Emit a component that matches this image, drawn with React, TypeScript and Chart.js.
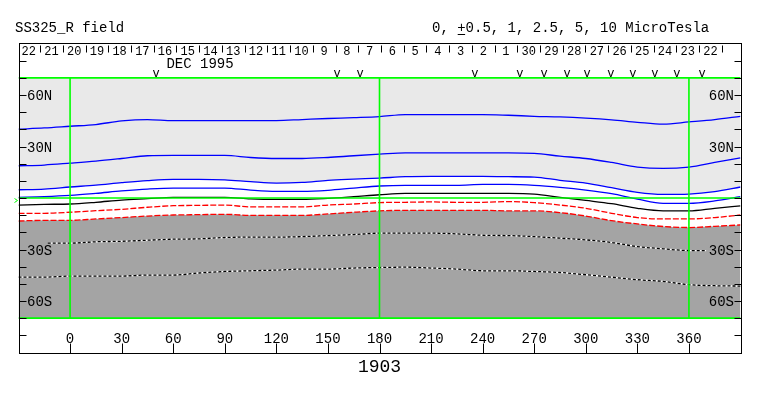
import { useEffect, useRef } from 'react';
import { Chart, registerables } from 'chart.js';

Chart.register(...registerables);

// ---------- data ----------
const LONS = [-30, -15, 0, 15, 30, 45, 60, 75, 90, 105, 120, 135, 150, 165, 180, 195, 210, 225, 240, 255, 270, 285, 300, 315, 330, 345, 360, 375, 390];

const C_10 = [40.1, 40.8, 41.8, 42.8, 44.9, 45.7, 45.1, 45.1, 45.1, 45.1, 45.1, 45.7, 46.3, 46.8, 47.4, 48.6, 48.6, 48.6, 48.6, 48.2, 47.6, 47.2, 46.5, 45.5, 44.1, 43.0, 44.3, 45.7, 47.6];
const C_5 = [18.8, 19.2, 20.3, 21.5, 23.0, 24.6, 24.8, 24.8, 24.8, 23.6, 23.0, 23.0, 23.6, 24.6, 25.5, 26.3, 26.3, 26.3, 26.3, 26.3, 26.0, 24.4, 23.0, 20.7, 18.0, 17.2, 18.0, 20.7, 23.4];
const C_2_5 = [4.8, 5.2, 6.4, 7.5, 8.9, 10.1, 10.8, 10.8, 10.5, 9.5, 8.7, 9.1, 10.3, 11.0, 11.6, 12.4, 12.6, 12.6, 12.6, 12.4, 12.2, 10.3, 8.7, 6.0, 3.3, 2.1, 2.3, 3.7, 6.4];
const C_1 = [0.4, 0.8, 1.5, 2.7, 4.1, 5.2, 5.8, 5.8, 5.8, 4.6, 3.9, 3.9, 4.5, 5.8, 7.0, 7.4, 7.4, 7.4, 7.9, 7.9, 7.4, 6.2, 4.6, 2.5, -0.6, -3.1, -3.1, -1.7, 0.8];
const C_0 = [-4.1, -3.7, -3.5, -2.5, -1.2, -0.4, 0.4, 0.4, 0.4, -0.5, -0.8, -0.8, -0.2, 0.8, 1.9, 2.7, 2.7, 2.7, 2.7, 2.7, 2.3, 0.4, -1.4, -3.3, -6.0, -7.5, -7.5, -6.0, -4.6];
const C_M05 = [-8.9, -8.9, -8.3, -7.4, -6.6, -5.4, -4.5, -4.3, -4.1, -5.2, -5.2, -5.2, -4.1, -3.5, -2.7, -2.5, -2.3, -2.5, -2.5, -2.1, -2.7, -4.1, -6.0, -8.9, -11.4, -12.2, -12.2, -11.4, -9.9];
const C_M1 = [-13.4, -13.0, -13.0, -12.2, -11.4, -10.5, -9.9, -9.7, -9.5, -10.1, -10.1, -10.1, -9.3, -8.3, -7.5, -7.2, -7.2, -7.2, -7.2, -7.5, -7.5, -8.5, -10.5, -13.2, -15.1, -16.6, -17.2, -16.5, -15.7];

const D1_LONS = [-13, 0, 15, 30, 45, 60, 75, 90, 105, 120, 135, 150, 165, 180, 195, 210, 225, 240, 255, 270, 285, 300, 315, 330, 345, 360, 370];
const D1 = [-26.3, -26.3, -25.5, -25.2, -24.6, -24.0, -23.8, -23.0, -22.8, -22.8, -22.5, -21.9, -21.3, -20.5, -20.5, -20.5, -20.9, -21.7, -21.9, -22.5, -23.4, -24.4, -25.9, -28.3, -29.6, -30.6, -30.6];
const D2 = [-46.1, -46.1, -45.5, -45.5, -45.5, -44.9, -44.9, -43.7, -42.8, -42.4, -42.0, -41.4, -41.4, -40.8, -40.5, -40.3, -40.8, -41.4, -42.4, -42.4, -42.8, -43.4, -44.7, -46.1, -47.6, -48.6, -50.5, -51.1, -51.3];

const LAT_TICKS = [-80, -70, -60, -50, -40, -30, -20, -10, 0, 10, 20, 30, 40, 50, 60, 70, 80];
const LAT_LABEL_VALUES = [60, 30, -30, -60];
const LAT_LABEL_TEXT = ['60N', '30N', '30S', '60S'];
const LON_TICKS = [0, 30, 60, 90, 120, 150, 180, 210, 240, 270, 300, 330, 360];
const DAY_LABELS = ['22', '21', '20', '19', '18', '17', '16', '15', '14', '13', '12', '11', '10', '9', '8', '7', '6', '5', '4', '3', '2', '1', '30', '29', '28', '27', '26', '25', '24', '23', '22'];
const V_MARK_LONS = [50.0, 155.3, 168.7, 235.5, 261.7, 275.7, 289.1, 300.7, 314.6, 327.4, 340.2, 353.0, 367.6];
const MONTH_LABEL = 'DEC 1995';
const MONTH_LON = 75.6;
const ROTATION = '1903';
const TITLE = 'SS325_R field';
const SCALE_PREFIX = '0, ';
const SCALE_PLUS = '+';
const SCALE_REST = '0.5, 1, 2.5, 5, 10 MicroTesla';
const GRID_LONS = [0, 180, 360];
const GRID_LATS = [70, 0, -70];

// Carrington day grid: first day boundary and degrees per day
const DAY_SEP0 = -17.45;
const DAY_STEP = 13.22;

const FONT = '"Liberation Mono", "DejaVu Sans Mono", monospace';
const BLUE = '#0000ff';
const GREEN = '#00ff00';
const RED = '#ff0000';
const LIGHT = '#e9e9e9';
const DARK = '#a4a4a4';

const pts = (lons: number[], lats: number[]) => lons.map((x, i) => ({ x, y: lats[i] }));

const decorations = {
  id: 'decorations',
  afterDatasetsDraw(chart: any) {
    const { ctx, chartArea: a, scales } = chart;
    const xs = scales.x;
    const ys = scales.y;
    const L = Math.round(a.left) + 0.5;
    const R = Math.round(a.right) + 0.5;
    const T = Math.floor(a.top) + 0.5;
    const B = Math.ceil(a.bottom) + 0.5;
    ctx.save();
    ctx.strokeStyle = '#000';
    ctx.fillStyle = '#000';
    ctx.lineWidth = 1;
    ctx.strokeRect(L, T, R - L, B - T);
    ctx.beginPath();
    for (const lat of LAT_TICKS) {
      const py = Math.round(ys.getPixelForValue(lat)) + 0.5;
      ctx.moveTo(L, py); ctx.lineTo(L + 7, py);
      ctx.moveTo(R - 7, py); ctx.lineTo(R, py);
    }
    for (const lon of LON_TICKS) {
      const px = Math.round(xs.getPixelForValue(lon)) + 0.5;
      ctx.moveTo(px, B); ctx.lineTo(px, B - 10);
    }
    for (let k = 0; k < DAY_LABELS.length; k++) {
      const px = Math.round(xs.getPixelForValue(DAY_SEP0 + k * DAY_STEP)) + 0.5;
      ctx.moveTo(px, T + 2); ctx.lineTo(px, T + 9);
    }
    ctx.stroke();

    // titles
    ctx.textBaseline = 'alphabetic';
    ctx.font = `14px ${FONT}`;
    ctx.textAlign = 'left';
    ctx.fillText(TITLE, 15, 32);
    const sx = 432;
    ctx.fillText(SCALE_PREFIX + SCALE_PLUS + SCALE_REST, sx, 32);
    const px0 = sx + ctx.measureText(SCALE_PREFIX).width;
    const pw = ctx.measureText(SCALE_PLUS).width;
    ctx.beginPath();
    ctx.moveTo(px0 + 0.5, 34.5); ctx.lineTo(px0 + pw - 0.5, 34.5);
    ctx.stroke();

    // lat labels
    for (let i = 0; i < LAT_LABEL_VALUES.length; i++) {
      const py = Math.round(ys.getPixelForValue(LAT_LABEL_VALUES[i])) + 5;
      ctx.textAlign = 'left';
      ctx.fillText(LAT_LABEL_TEXT[i], L + 7.5, py);
      ctx.textAlign = 'right';
      ctx.fillText(LAT_LABEL_TEXT[i], R - 7.5, py);
    }

    // lon labels
    ctx.textAlign = 'center';
    for (const lon of LON_TICKS) {
      ctx.fillText(String(lon), xs.getPixelForValue(lon), B - 11);
    }

    // month label
    ctx.fillText(MONTH_LABEL, xs.getPixelForValue(MONTH_LON), T + 24);

    // day labels
    ctx.font = `12px ${FONT}`;
    for (let k = 0; k < DAY_LABELS.length; k++) {
      ctx.fillText(DAY_LABELS[k], xs.getPixelForValue(DAY_SEP0 + (k - 0.5) * DAY_STEP), T + 11.5);
    }
    // v marks
    for (const lon of V_MARK_LONS) {
      ctx.fillText('v', xs.getPixelForValue(lon), T + 33.5);
    }

    // rotation number
    ctx.font = `18px ${FONT}`;
    ctx.fillText(ROTATION, xs.getPixelForValue(180), B + 18);

    // equator marker
    const ey = Math.round(ys.getPixelForValue(0)) + 2.5;
    ctx.strokeStyle = GREEN;
    ctx.beginPath();
    ctx.moveTo(14.5, ey - 2); ctx.lineTo(17.5, ey); ctx.lineTo(14.5, ey + 2);
    ctx.stroke();
    ctx.restore();
  },
};

export default function App() {
  const ref = useRef<HTMLCanvasElement>(null);
  useEffect(() => {
    const line = (data: any[], color: string, extra: any = {}) => ({
      data,
      borderColor: color,
      borderWidth: 1.3,
      pointRadius: 0,
      fill: false,
      cubicInterpolationMode: 'monotone',
      order: 2,
      ...extra,
    });
    const datasets: any[] = [
      // fills
      line(pts(LONS, C_2_5), 'rgba(0,0,0,0)', { fill: { value: 70 }, backgroundColor: LIGHT, borderWidth: 0, order: 5 }),
      line(pts(LONS, C_M1), 'rgba(0,0,0,0)', { fill: { value: -70 }, backgroundColor: DARK, borderWidth: 0, order: 5 }),
      // contours
      line(pts(LONS, C_10), BLUE),
      line(pts(LONS, C_5), BLUE),
      line(pts(LONS, C_2_5), BLUE),
      line(pts(LONS, C_1), BLUE),
      line(pts(LONS, C_0), '#000'),
      line(pts(LONS, C_M05), RED, { borderDash: [6, 2] }),
      line(pts(LONS, C_M1), RED, { borderDash: [6, 2] }),
      line(pts(D1_LONS, D1), '#fff', { order: 3 }),
      line(pts(D1_LONS, D1), '#000', { borderDash: [3, 2] }),
      line(pts(LONS, D2), '#fff', { order: 3 }),
      line(pts(LONS, D2), '#000', { borderDash: [3, 2] }),
    ];
    for (const lat of GRID_LATS) {
      datasets.push(line([{ x: -30, y: lat }, { x: 390, y: lat }], GREEN, { borderWidth: 1.6, order: 0, cubicInterpolationMode: 'default' }));
    }
    for (const lon of GRID_LONS) {
      datasets.push(line([{ x: lon, y: -70 }, { x: lon, y: 70 }], GREEN, { borderWidth: 1.6, order: 0, cubicInterpolationMode: 'default' }));
    }

    const chart = new Chart(ref.current as HTMLCanvasElement, {
      type: 'line',
      data: { datasets },
      options: {
        animation: false,
        responsive: false,
        devicePixelRatio: 1,
        layout: { padding: { left: 18.5, right: 22.5, top: 43.5, bottom: 43.5 } },
        scales: {
          x: { type: 'linear', min: -30, max: 390, display: false },
          y: { type: 'linear', min: -90, max: 90, display: false },
        },
        plugins: {
          legend: { display: false },
          tooltip: { enabled: false },
          filler: { drawTime: 'beforeDatasetsDraw' },
        } as any,
        elements: { point: { radius: 0 } },
      },
      plugins: [decorations],
    } as any);
    return () => chart.destroy();
  }, []);
  return (
    <div style={{ position: 'fixed', left: 0, top: 0, width: 763, height: 396, background: '#fff' }}>
      <canvas ref={ref} width={763} height={396} style={{ display: 'block', width: 763, height: 396 }} />
    </div>
  );
}
